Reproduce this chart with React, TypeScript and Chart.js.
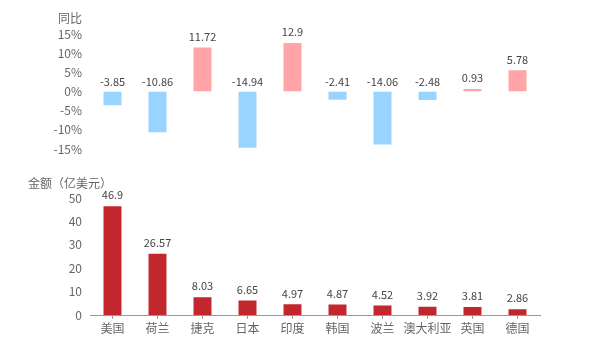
import React, { useEffect, useRef } from "react";
import { Chart, registerables } from "chart.js";

Chart.register(...registerables);

const categories = ["美国", "荷兰", "捷克", "日本", "印度", "韩国", "波兰", "澳大利亚", "英国", "德国"];
const yoyValues = [-3.85, -10.86, 11.72, -14.94, 12.9, -2.41, -14.06, -2.48, 0.93, 5.78];
const amountValues = [46.9, 26.57, 8.03, 6.65, 4.97, 4.87, 4.52, 3.92, 3.81, 2.86];
const yoyTicks = [-15, -10, -5, 0, 5, 10, 15];
const amountTicks = [0, 10, 20, 30, 40, 50];

const FONT = "'Noto Sans CJK SC', 'Noto Sans', sans-serif";
const POS = "#FFA4A7";
const NEG = "#99D3FF";
const RED = "#C1272D";

const labelPlugin = {
  id: "valueLabels",
  afterDatasetsDraw(chart: any) {
    const ctx = chart.ctx;
    ctx.save();
    ctx.font = `11px ${FONT}`;
    ctx.fillStyle = "#444";
    ctx.textAlign = "center";
    ctx.textBaseline = "middle";
    chart.data.datasets.forEach((ds: any, di: number) => {
      const meta = chart.getDatasetMeta(di);
      meta.data.forEach((bar: any, i: number) => {
        const top = Math.min(bar.y, bar.base);
        ctx.fillText(String(ds.data[i]), bar.x, top - 10);
      });
    });
    // axis names
    ctx.font = `12px ${FONT}`;
    ctx.fillStyle = "#666";
    const yTop = chart.scales.yTop;
    const yBot = chart.scales.yBot;
    ctx.textAlign = "right";
    ctx.fillText("同比", yTop.right - 8, yTop.getPixelForValue(15) - 16);
    ctx.textAlign = "left";
    ctx.fillText("金额（亿美元）", 28, yBot.getPixelForValue(50) - 15);
    ctx.restore();
  },
};

export default function App() {
  const ref = useRef<HTMLCanvasElement>(null);
  useEffect(() => {
    if (!ref.current) return;
    const chart = new Chart(ref.current, {
      type: "bar",
      data: {
        labels: categories,
        datasets: [
          {
            label: "金额",
            data: amountValues,
            yAxisID: "yBot",
            backgroundColor: RED,
            borderColor: "rgba(255,255,255,0.35)",
            borderWidth: 1,
            grouped: false,
            categoryPercentage: 1,
            barPercentage: 0.444,
          } as any,
          {
            label: "同比",
            data: yoyValues,
            yAxisID: "yTop",
            backgroundColor: yoyValues.map((v) => (v >= 0 ? POS : NEG)),
            borderColor: "rgba(255,255,255,0.5)",
            borderWidth: 1,
            grouped: false,
            categoryPercentage: 1,
            barPercentage: 0.444,
          } as any,
        ],
      },
      options: {
        responsive: true,
        maintainAspectRatio: false,
        animation: false,
        layout: { padding: { top: 34, right: 60, left: 0, bottom: 0 } },
        plugins: { legend: { display: false }, tooltip: { enabled: false } },
        scales: {
          x: {
            grid: { display: true, drawOnChartArea: false, drawTicks: true, tickLength: 4, offset: false, color: "#999" },
            border: { display: true, color: "#999" },
            ticks: { color: "#666", font: { family: FONT, size: 12 }, padding: 2, maxRotation: 0, autoSkip: false },
            afterFit: (s: any) => { s.height = 35; },
          },
          yBot: {
            type: "linear",
            position: "left",
            stack: "s",
            stackWeight: 166,
            min: 0,
            max: 70.94,
            grid: { display: false, drawTicks: false },
            border: { display: false },
            ticks: { stepSize: 10, autoSkip: false, color: "#666", font: { family: FONT, size: 12 }, padding: 8 },
            afterBuildTicks: (s: any) => { s.ticks = amountTicks.map((v) => ({ value: v })); },
            afterFit: (s: any) => { s.width = 90; },
          },
          yTop: {
            type: "linear",
            position: "left",
            stack: "s",
            stackWeight: 115,
            min: -15,
            max: 15,
            grid: { display: false, drawTicks: false },
            border: { display: false },
            ticks: { stepSize: 5, autoSkip: false, color: "#666", font: { family: FONT, size: 12 }, padding: 8, callback: (v: any) => `${v}%` },
            afterBuildTicks: (s: any) => { s.ticks = yoyTicks.map((v) => ({ value: v })); },
            afterFit: (s: any) => { s.width = 90; },
          },
        },
      } as any,
      plugins: [labelPlugin],
    });
    return () => chart.destroy();
  }, []);
  return (
    <div style={{ position: "fixed", left: 0, top: 0, width: 600, height: 350, background: "#fff" }}>
      <canvas ref={ref} />
    </div>
  );
}
